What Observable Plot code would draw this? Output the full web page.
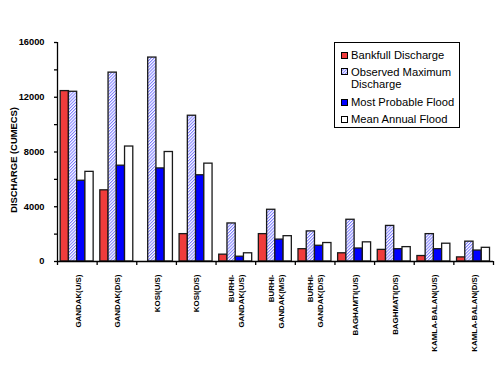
<!DOCTYPE html>
<html><head><meta charset="utf-8">
<script src="https://cdn.jsdelivr.net/npm/d3@7"></script>
<script src="https://cdn.jsdelivr.net/npm/@observablehq/plot@0.6"></script>
<style>
body{margin:0;background:#fff;font-family:"Liberation Sans",Arial,sans-serif;}
#wrap{position:relative;width:500px;height:375px;}
#legend{position:absolute;left:334px;top:42px;width:126px;height:86px;border:1px solid #000;background:#fff;box-sizing:border-box;font-size:11.2px;color:#000;}
.item{position:absolute;left:16px;line-height:12px;white-space:nowrap;}
.sw{position:absolute;left:-10px;top:3px;width:5px;height:5px;border:1px solid #000;}
</style></head>
<body><div id="wrap"></div>
<script>
const categories = ["GANDAK(U/S)","GANDAK(D/S)","KOSI(U/S)","KOSI(D/S)","BURHI-\nGANDAK(U/S)","BURHI-\nGANDAK(M/S)","BURHI-\nGANDAK(D/S)","BAGHAMTI(U/S)","BAGHMATI(D/S)","KAMLA-BALAN(U/S)","KAMLA-BALAN(D/S)"];
const seriesNames = ["Bankfull Discharge","Observed Maximum Discharge","Most Probable Flood","Mean Annual Flood"];
const bankfull     = [12450, 5200,     0,  2000,  500, 2000,  900,  600,  850,  400,  300];
const observedMax  = [12400, 13800, 14900, 10650, 2780, 3780, 2200, 3050, 2600, 2000, 1450];
const mostProbable = [ 5900, 7000,  6800,  6300,  350, 1600, 1150,  950,  900,  900,  800];
const meanAnnual   = [ 6550, 8400,  8000,  7150,  600, 1850, 1350, 1400, 1050, 1300, 1000];
const yTicks = [0, 4000, 8000, 12000, 16000];

const seriesValues = [bankfull, observedMax, mostProbable, meanAnnual];
const fills = ["#f03c3c", "url(#hatch)", "#0000ff", "#ffffff"];
const legendFills = ["#f03c3c", "url(#hatch)", "#0000ff", "#ffffff"];

// layout (style) constants: bar group placement within each category slot
const groupStart = 0.08, barW = 0.208;

const rows = [];
seriesValues.forEach((vals, j) => vals.forEach((v, i) => {
  rows.push({cat: i, s: j, value: v, x1: i + groupStart + j * barW, x2: i + groupStart + (j + 1) * barW});
}));
const labelRows = categories.map((c, i) => ({label: c, pos: i + 0.5}));

const plot = Plot.plot({
  width: 500, height: 375,
  marginLeft: 57, marginRight: 7, marginTop: 42, marginBottom: 114,
  style: {fontFamily: "Liberation Sans, Arial, sans-serif", background: "#fff"},
  x: {domain: [0, categories.length]},
  y: {domain: [0, 16000]},
  marks: [
    Plot.rectY(rows, {x1: "x1", x2: "x2", y: "value", fill: d => fills[d.s], stroke: "#1a1a1a", strokeWidth: 1.3}),
    Plot.ruleY([0], {stroke: "#000", strokeWidth: 1.3}),
    Plot.ruleX([0], {stroke: "#000", strokeWidth: 1.3}),
    Plot.axisX({ticks: d3.range(0, categories.length + 1), tickSize: 4, tickFormat: () => "", strokeWidth: 1.3}),
    Plot.axisY({ticks: d3.range(0, 16001, 2000), tickSize: 3, tickPadding: 10, strokeWidth: 1.3,
      tickFormat: d => yTicks.includes(d) ? String(d) : "", fontSize: 9.3, fontWeight: "bold", label: null}),
    Plot.text(labelRows, {x: "pos", y: 0, text: "label", rotate: -90, textAnchor: "end", lineAnchor: "middle",
      dy: 13, fontSize: 7.9, fontWeight: "bold", lineHeight: 1.28, fill: "#000"}),
    Plot.text(["DISCHARGE (CUMECS)"], {frameAnchor: "left", textAnchor: "middle", rotate: -90, dx: -44, dy: 8, fontSize: 9.4, fontWeight: "bold", fill: "#000"})
  ]
});

const defs = `<defs>
<pattern id="hatch" patternUnits="userSpaceOnUse" width="2.2" height="2.2" patternTransform="rotate(45)">
<rect width="2.2" height="2.2" fill="#ffffff"/><rect width="1" height="2.2" fill="#7878ff"/></pattern>
</defs>`;
plot.insertAdjacentHTML("afterbegin", defs);

const wrap = document.getElementById("wrap");
wrap.appendChild(plot);

// legend
const legend = document.createElement("div");
legend.id = "legend";
const tops = [6, 23, 53, 69.5];
seriesNames.forEach((name, j) => {
  const item = document.createElement("div");
  item.className = "item";
  item.style.top = tops[j] + "px";
  const txt = j === 1 ? "Observed Maximum<br>Discharge" : name;
  const sw = j === 1
    ? `<svg class="sw" style="border:none;width:7px;height:7px;left:-10px;top:2px" viewBox="0 0 7 7"><rect x="0.5" y="0.5" width="6" height="6" fill="url(#hatch)" stroke="#000"/></svg>`
    : `<span class="sw" style="background:${legendFills[j]}"></span>`;
  item.innerHTML = sw + txt;
  legend.appendChild(item);
});
wrap.appendChild(legend);
</script>
</body></html>
